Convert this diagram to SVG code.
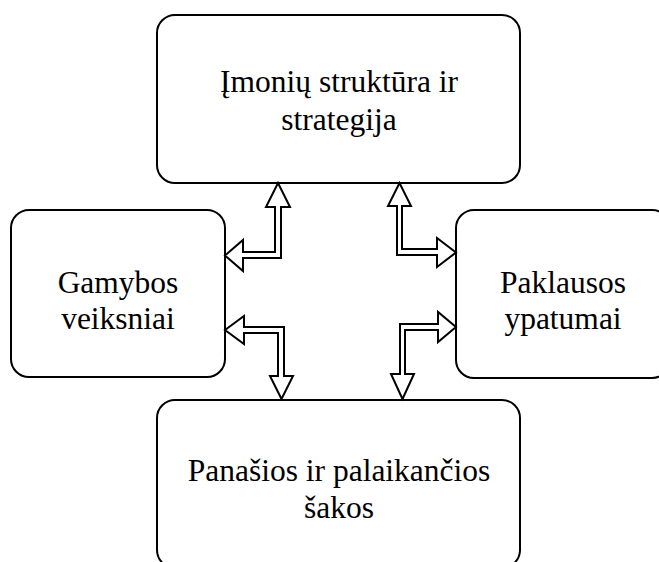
<svg xmlns="http://www.w3.org/2000/svg" width="659" height="562" viewBox="0 0 659 562">
<style>
.box{fill:#fff;stroke:#000;stroke-width:2}
.arr{fill:#fff;stroke:#000;stroke-width:2;stroke-linejoin:miter}
.t{font-family:"Liberation Serif","Times New Roman",serif;font-size:31.5px;fill:#000;text-anchor:middle}
</style>
<rect width="659" height="562" fill="#fff"/>
<g id="node-top">
<rect class="box" x="157" y="15" width="363" height="168" rx="18"/>
<text class="t" x="339" y="92">Įmonių struktūra ir</text>
<text class="t" x="339" y="130">strategija</text>
</g>
<g id="node-left">
<rect class="box" x="11" y="210" width="214" height="167" rx="18"/>
<text class="t" x="118" y="293">Gamybos</text>
<text class="t" x="118" y="329">veiksniai</text>
</g>
<g id="node-right">
<rect class="box" x="456" y="210" width="214" height="168" rx="18"/>
<text class="t" x="563" y="293">Paklausos</text>
<text class="t" x="563" y="329">ypatumai</text>
</g>
<g id="node-bottom">
<rect class="box" x="157" y="400" width="363" height="168" rx="18"/>
<text class="t" x="339" y="481">Panašios ir palaikančios</text>
<text class="t" x="339" y="518">šakos</text>
</g>
<g id="connectors">
<polygon class="arr" points="278,183 290,207 281,207 281,258 243,258 243,271 225,255.5 243,240 243,252 275,252 275,207 266,207"/>
<polygon class="arr" points="399.5,183 411,206 402,206 402,249 437,249 437,238 456,252.5 437,267 437,255 397,255 397,206 388,206"/>
<polygon class="arr" points="225,330 244,316 244,327 284,327 284,376 293,376 281.5,399 270,376 278,376 278,333 244,333 244,344"/>
<polygon class="arr" points="456,327 438,342 438,330 405,330 405,374 414,374 402.5,399 391,374 400,374 400,324 438,324 438,312"/>
</g>
</svg>
